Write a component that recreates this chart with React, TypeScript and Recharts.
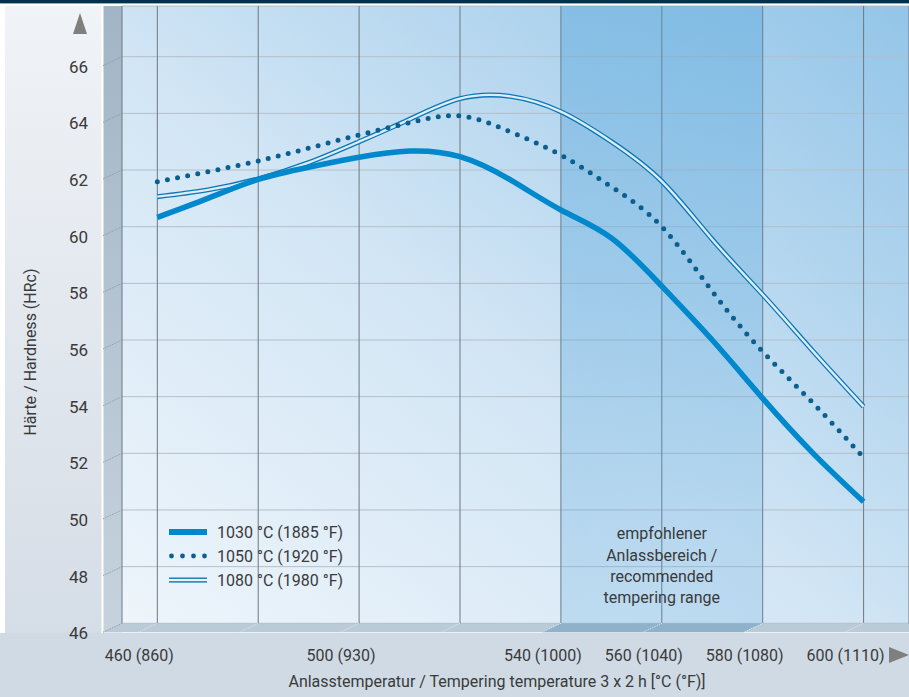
import { LineChart, Line, XAxis, YAxis, CartesianGrid, ReferenceArea, Legend } from 'recharts';

const temps = [460, 470, 480, 490, 500, 510, 520, 530, 540, 550, 560, 570, 580, 590, 600];
const hard1030 = [60.33, 61.0, 61.67, 62.1, 62.45, 62.67, 62.47, 61.65, 60.59, 59.6, 57.9, 56.0, 53.94, 52.0, 50.29];
const hard1050 = [61.59, 61.94, 62.32, 62.77, 63.24, 63.67, 63.91, 63.35, 62.53, 61.41, 60.0, 57.72, 55.59, 53.77, 51.85];
const hard1080 = [61.06, 61.3, 61.69, 62.26, 63.0, 63.79, 64.52, 64.6, 64.06, 63.0, 61.6, 59.55, 57.6, 55.6, 53.65];

const xGridTicks = [460, 480, 500, 520, 540, 560, 580, 600];
const xTickLabels = ['460 (860)', '', '500 (930)', '', '540 (1000)', '560 (1040)', '580 (1080)', '600 (1110)'];
const yTicks = [46, 48, 50, 52, 54, 56, 58, 60, 62, 64, 66];
const legendLabels = ['1030 °C (1885 °F)', '1050 °C (1920 °F)', '1080 °C (1980 °F)'];
const bandRange = [540, 580];
const bandText = ['empfohlener', 'Anlassbereich /', 'recommended', 'tempering range'];

const data = temps.map((t, i) => ({ t, h1030: hard1030[i], h1050: hard1050[i], h1080: hard1080[i] }));

const W = 909;
const H = 697;
const PLOT_LEFT = 122;
const PLOT_TOP = 6;
const PLOT_BOTTOM = 623.3;
const DEPTH = 19;
const FONT = "Roboto, 'Open Sans', sans-serif";
const TEXT = '#3a3a3a';
const BLUE = '#0088cc';
const DOT_BLUE = '#0a5f90';
const LINE_BLUE = '#0b78b6';

function XTick(props: any) {
  const { x, index } = props;
  const label = xTickLabels[index] ?? '';
  return (
    <g>
      <line x1={x - DEPTH} y1={PLOT_BOTTOM + 9} x2={x} y2={PLOT_BOTTOM} stroke="#e4eaf0" strokeDasharray="1 1" />
      {label && (
        <text x={x - 18} y={661} textAnchor="middle" fontSize={16} fontFamily={FONT} fill={TEXT}>
          {label}
        </text>
      )}
    </g>
  );
}

function YTick(props: any) {
  const { y, payload } = props;
  return (
    <g>
      <line x1={PLOT_LEFT - DEPTH} y1={y + 9} x2={PLOT_LEFT} y2={y} stroke="#8a98a6" strokeDasharray="1 1" />
      <text x={88} y={y + 16} textAnchor="end" fontSize={17} fontFamily={FONT} fill={TEXT}>
        {payload.value}
      </text>
    </g>
  );
}

function BandShape(props: any) {
  const { x, y, width, height } = props;
  const b = y + height;
  return (
    <g>
      <defs>
        <linearGradient id="bandFill" x1="0" y1="0" x2="0.3" y2="1">
          <stop offset="0" stopColor="#4a9fd8" stopOpacity={0.4} />
          <stop offset="1" stopColor="#4a9fd8" stopOpacity={0.2} />
        </linearGradient>
      </defs>
      <rect x={x} y={y} width={width} height={height} fill="url(#bandFill)" />
      <polygon
        points={`${x},${b} ${x + width},${b} ${x + width - DEPTH},${b + 9} ${x - DEPTH},${b + 9}`}
        fill="#90b1ca"
      />
    </g>
  );
}

function BandLabel(props: any) {
  const { viewBox } = props;
  const cx = viewBox.x + viewBox.width / 2;
  const bottom = viewBox.y + viewBox.height;
  return (
    <text textAnchor="middle" fontSize={16} fontFamily={FONT} fill={TEXT}>
      {bandText.map((line, i) => (
        <tspan key={line} x={cx} y={bottom - 84 + i * 21.3}>
          {line}
        </tspan>
      ))}
    </text>
  );
}

function LegendContent() {
  const row = { display: 'flex', alignItems: 'center', height: 24 } as const;
  return (
    <div style={{ fontFamily: FONT, fontSize: 16, color: TEXT }}>
      <div style={row}>
        <svg width={48} height={12}>
          <rect x={0} y={3} width={38} height={6} fill={BLUE} />
        </svg>
        <span>{legendLabels[0]}</span>
      </div>
      <div style={row}>
        <svg width={48} height={12}>
          {[2.5, 13.5, 24.5, 35.5].map((cx) => (
            <circle key={cx} cx={cx} cy={6} r={2.4} fill={DOT_BLUE} />
          ))}
        </svg>
        <span>{legendLabels[1]}</span>
      </div>
      <div style={row}>
        <svg width={48} height={12}>
          <rect x={0} y={3.5} width={38} height={1.4} fill={LINE_BLUE} />
          <rect x={0} y={7.2} width={38} height={1.4} fill={LINE_BLUE} />
        </svg>
        <span>{legendLabels[2]}</span>
      </div>
    </div>
  );
}

function Backdrop() {
  return (
    <svg width={W} height={H} style={{ position: 'absolute', left: 0, top: 0 }}>
      <defs>
        <linearGradient id="leftPanel" x1="0" y1="0" x2="0" y2="1">
          <stop offset="0" stopColor="#f0f3f7" />
          <stop offset="1" stopColor="#d5dde6" />
        </linearGradient>
        <linearGradient id="wall" x1="0" y1="0" x2="0" y2="1">
          <stop offset="0" stopColor="#a2b5c6" />
          <stop offset="1" stopColor="#c6d3de" />
        </linearGradient>
        <linearGradient id="plotBg" x1="0" y1="1" x2="1" y2="0">
          <stop offset="0" stopColor="#eef5fb" />
          <stop offset="0.45" stopColor="#d3e6f5" />
          <stop offset="1" stopColor="#93c5e8" />
        </linearGradient>
      </defs>
      <rect x={0} y={0} width={W} height={H} fill="#ffffff" />
      <rect x={0} y={633} width={W} height={H - 633} fill="#cfdae4" />
      <rect x={5} y={6} width={96.5} height={627} fill="url(#leftPanel)" />
      <rect x={103.5} y={6} width={PLOT_LEFT - 103.5} height={PLOT_BOTTOM - 6 + 9} fill="url(#wall)" />
      <rect x={PLOT_LEFT} y={PLOT_TOP} width={W - PLOT_LEFT} height={PLOT_BOTTOM - PLOT_TOP} fill="url(#plotBg)" />
      <polygon
        points={`${PLOT_LEFT},${PLOT_BOTTOM} ${W},${PLOT_BOTTOM} ${W},${PLOT_BOTTOM + 9} ${PLOT_LEFT - DEPTH},${PLOT_BOTTOM + 9}`}
        fill="#b9cad8"
      />
      <rect x={0} y={0} width={W} height={3.4} fill="#00324f" />
      <polygon points="73,34 87,34 80,13" fill="#7f7f7f" />
      <polygon points="889,647 889,663 909,655" fill="#7f7f7f" />
      <text
        transform="translate(35.5,352) rotate(-90)"
        textAnchor="middle"
        fontSize={16}
        fontFamily={FONT}
        fill={TEXT}
      >
        Härte / Hardness (HRc)
      </text>
      <text x={497} y={687} textAnchor="middle" fontSize={16} fontFamily={FONT} fill={TEXT}>
        Anlasstemperatur / Tempering temperature 3 x 2 h [°C (°F)]
      </text>
    </svg>
  );
}

export default function App() {
  return (
    <div style={{ position: 'absolute', left: 0, top: 0, width: W, height: H }}>
      <Backdrop />
      <div style={{ position: 'absolute', left: 0, top: 0 }}>
        <LineChart width={W} height={H} data={data} margin={{ top: PLOT_TOP, right: 0, left: 0, bottom: 0 }}>
          <ReferenceArea
            x1={bandRange[0]}
            x2={bandRange[1]}
            shape={BandShape}
            label={(p: any) => <BandLabel {...p} />}
            isAnimationActive={false}
          />
          <CartesianGrid vertical={false} stroke="#b4bfc9" />
          <CartesianGrid horizontal={false} stroke="#6f7880" />
          <XAxis
            dataKey="t"
            type="number"
            domain={[453, 609]}
            ticks={xGridTicks}
            interval={0}
            axisLine={false}
            tickLine={false}
            tick={<XTick />}
            height={H - PLOT_BOTTOM}
            allowDataOverflow
          />
          <YAxis
            type="number"
            domain={[46, 67.79]}
            ticks={yTicks}
            interval={0}
            axisLine={false}
            tickLine={false}
            tick={<YTick />}
            width={PLOT_LEFT}
            allowDataOverflow
          />
          <Legend
            layout="vertical"
            align="center"
            verticalAlign="middle"
            content={<LegendContent />}
            wrapperStyle={{ left: 169, top: 520, width: 260 }}
          />
          <Line dataKey="h1080" type="natural" stroke={LINE_BLUE} strokeWidth={5} dot={false} activeDot={false} isAnimationActive={false} />
          <Line dataKey="h1080" type="natural" stroke="#dcecf8" strokeWidth={2.4} dot={false} activeDot={false} isAnimationActive={false} legendType="none" />
          <Line dataKey="h1050" type="natural" stroke={DOT_BLUE} strokeWidth={5} strokeDasharray="0 10.3" strokeLinecap="round" dot={false} activeDot={false} isAnimationActive={false} />
          <Line dataKey="h1030" type="natural" stroke={BLUE} strokeWidth={5.5} dot={false} activeDot={false} isAnimationActive={false} />
        </LineChart>
      </div>
    </div>
  );
}
